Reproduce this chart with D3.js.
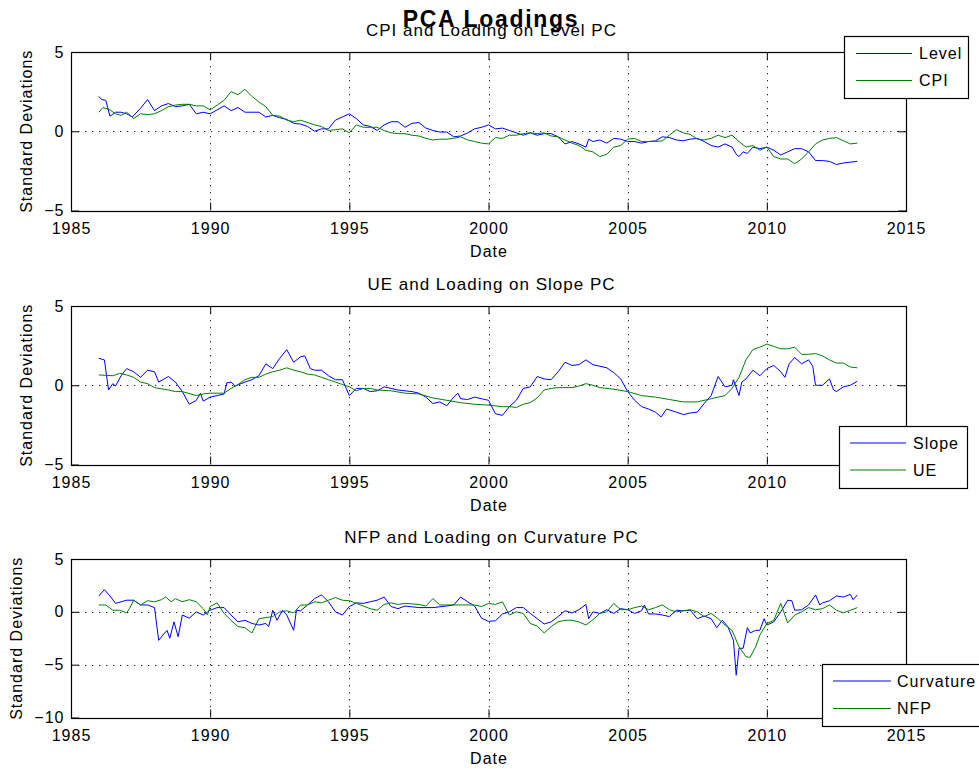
<!DOCTYPE html>
<html>
<head>
<meta charset="utf-8">
<script src="https://cdn.jsdelivr.net/npm/d3@7"></script>
<style>
  html, body { margin: 0; padding: 0; background: #fff; }
  svg { display: block; }
  text { font-family: "Liberation Sans", Arial, Helvetica, sans-serif; fill: #000; }
</style>
</head>
<body>
<svg id="chart" width="979" height="769"></svg>
<script>
// ---------------- DATA ----------------
const mainTitle = "PCA Loadings";
const panelTitles = ["CPI and Loading on Level PC", "UE and Loading on Slope PC", "NFP and Loading on Curvature PC"];
const xLabel = "Date";
const yLabel = "Standard Deviations";
const xTicks = [1985, 1990, 1995, 2000, 2005, 2010, 2015];
const yTicksA = [-5, 0, 5];
const yTicksB = [-10, -5, 0, 5];
const legendNames = [["Level", "CPI"], ["Slope", "UE"], ["Curvature", "NFP"]];

const level = [[1986.0,2.2],[1986.1,2.0],[1986.25,1.95],[1986.4,0.95],[1986.6,1.2],[1986.8,1.2],[1987.0,1.1],[1987.2,0.9],[1987.5,1.45],[1987.75,2.0],[1988.0,1.3],[1988.25,1.6],[1988.5,1.75],[1988.75,1.55],[1989.0,1.6],[1989.25,1.7],[1989.5,1.1],[1989.75,1.2],[1990.0,1.1],[1990.25,1.35],[1990.5,1.6],[1990.75,1.3],[1991.0,1.5],[1991.25,1.2],[1991.5,1.2],[1991.75,1.2],[1992.0,0.9],[1992.25,1.0],[1992.5,0.85],[1992.75,0.75],[1993.0,0.5],[1993.25,0.45],[1993.5,0.3],[1993.75,0.0],[1994.0,0.15],[1994.25,0.15],[1994.5,0.7],[1994.75,0.9],[1995.0,1.1],[1995.25,0.8],[1995.5,0.4],[1995.75,0.3],[1996.0,0.05],[1996.25,0.4],[1996.5,0.6],[1996.75,0.6],[1997.0,0.25],[1997.25,0.5],[1997.5,0.55],[1997.75,0.2],[1998.0,0.05],[1998.25,-0.05],[1998.5,-0.05],[1998.75,-0.35],[1999.0,-0.3],[1999.25,-0.1],[1999.5,0.15],[1999.75,0.25],[2000.0,0.4],[2000.25,0.15],[2000.5,0.2],[2000.75,0.05],[2001.0,-0.1],[2001.25,-0.25],[2001.5,-0.1],[2001.75,-0.25],[2002.0,-0.15],[2002.25,-0.15],[2002.5,-0.35],[2002.75,-0.8],[2003.0,-0.65],[2003.25,-0.8],[2003.5,-1.0],[2003.6,-0.5],[2003.75,-0.65],[2004.0,-0.55],[2004.25,-0.75],[2004.5,-0.45],[2004.75,-0.5],[2005.0,-0.65],[2005.25,-0.65],[2005.5,-0.75],[2005.75,-0.65],[2006.0,-0.6],[2006.25,-0.35],[2006.5,-0.4],[2006.75,-0.55],[2007.0,-0.6],[2007.25,-0.5],[2007.5,-0.45],[2007.75,-0.65],[2008.0,-0.9],[2008.25,-1.0],[2008.5,-0.8],[2008.75,-1.0],[2008.9,-1.45],[2009.0,-1.6],[2009.15,-1.3],[2009.3,-1.4],[2009.5,-1.0],[2009.75,-1.1],[2010.0,-1.0],[2010.25,-1.2],[2010.5,-1.5],[2010.75,-1.3],[2011.0,-1.1],[2011.25,-1.1],[2011.5,-1.3],[2011.75,-1.85],[2012.0,-1.85],[2012.25,-1.9],[2012.5,-2.1],[2012.75,-2.0],[2013.0,-1.95],[2013.25,-1.9]];

const cpi = [[1986.0,1.2],[1986.15,1.5],[1986.4,1.35],[1986.6,1.1],[1986.8,1.0],[1987.0,1.2],[1987.25,0.8],[1987.5,1.1],[1987.75,1.05],[1988.0,1.1],[1988.25,1.3],[1988.5,1.55],[1988.75,1.65],[1989.0,1.7],[1989.25,1.7],[1989.5,1.6],[1989.75,1.6],[1990.0,1.35],[1990.25,1.65],[1990.5,1.95],[1990.75,2.5],[1991.0,2.3],[1991.25,2.65],[1991.5,2.2],[1991.75,1.85],[1992.0,1.55],[1992.25,1.0],[1992.5,0.95],[1992.75,0.7],[1993.0,0.6],[1993.25,0.7],[1993.5,0.55],[1993.75,0.4],[1994.0,0.3],[1994.25,0.05],[1994.5,0.1],[1994.75,0.15],[1995.0,-0.1],[1995.25,0.4],[1995.5,0.25],[1995.75,0.25],[1996.0,0.25],[1996.25,0.05],[1996.5,-0.1],[1996.75,-0.15],[1997.0,-0.15],[1997.25,-0.25],[1997.5,-0.3],[1997.75,-0.45],[1998.0,-0.55],[1998.25,-0.5],[1998.5,-0.5],[1998.75,-0.45],[1999.0,-0.35],[1999.25,-0.55],[1999.5,-0.65],[1999.75,-0.75],[2000.0,-0.8],[2000.25,-0.4],[2000.5,-0.45],[2000.75,-0.25],[2001.0,-0.25],[2001.25,-0.15],[2001.5,-0.1],[2001.75,-0.15],[2002.0,-0.1],[2002.25,-0.3],[2002.5,-0.35],[2002.75,-0.55],[2003.0,-0.75],[2003.25,-0.9],[2003.5,-1.2],[2003.75,-1.3],[2004.0,-1.6],[2004.25,-1.45],[2004.5,-1.0],[2004.75,-0.9],[2005.0,-0.5],[2005.25,-0.45],[2005.5,-0.65],[2005.75,-0.65],[2006.0,-0.65],[2006.25,-0.6],[2006.5,-0.25],[2006.75,0.1],[2007.0,-0.1],[2007.25,-0.2],[2007.5,-0.5],[2007.75,-0.55],[2008.0,-0.45],[2008.25,-0.25],[2008.5,-0.4],[2008.75,-0.25],[2009.0,-0.65],[2009.25,-1.0],[2009.5,-0.9],[2009.75,-1.2],[2010.0,-1.0],[2010.25,-1.6],[2010.5,-1.75],[2010.75,-1.75],[2011.0,-2.05],[2011.25,-1.75],[2011.5,-1.3],[2011.75,-0.8],[2012.0,-0.55],[2012.25,-0.45],[2012.5,-0.4],[2012.75,-0.6],[2013.0,-0.8],[2013.25,-0.75]];

const slope = [[1986.0,1.7],[1986.2,1.6],[1986.35,-0.3],[1986.5,0.1],[1986.6,-0.05],[1986.8,0.6],[1987.0,1.05],[1987.25,0.85],[1987.5,0.5],[1987.75,0.95],[1988.0,0.85],[1988.15,0.2],[1988.5,0.55],[1988.75,0.2],[1989.0,-0.4],[1989.25,-1.2],[1989.5,-0.95],[1989.65,-0.5],[1989.75,-1.0],[1990.0,-0.75],[1990.25,-0.65],[1990.5,-0.55],[1990.6,0.15],[1990.75,0.2],[1990.9,-0.05],[1991.25,0.2],[1991.5,0.35],[1991.75,0.6],[1992.0,1.35],[1992.25,1.05],[1992.5,1.7],[1992.75,2.25],[1993.0,1.45],[1993.25,1.8],[1993.4,1.85],[1993.6,1.05],[1993.75,0.95],[1994.0,0.95],[1994.25,0.6],[1994.5,0.35],[1994.75,0.35],[1995.0,-0.65],[1995.25,-0.2],[1995.5,-0.2],[1995.75,-0.4],[1996.0,-0.35],[1996.25,-0.1],[1996.5,-0.2],[1996.75,-0.3],[1997.0,-0.35],[1997.25,-0.4],[1997.5,-0.5],[1997.75,-0.75],[1998.0,-1.15],[1998.25,-1.05],[1998.5,-1.3],[1998.75,-0.75],[1998.9,-0.5],[1999.0,-0.85],[1999.25,-0.9],[1999.5,-0.75],[1999.75,-0.85],[2000.0,-0.95],[2000.25,-1.8],[2000.5,-1.9],[2000.75,-1.35],[2001.0,-0.95],[2001.25,-0.2],[2001.5,-0.1],[2001.75,0.55],[2002.0,0.4],[2002.25,0.35],[2002.5,0.85],[2002.75,1.45],[2003.0,1.25],[2003.25,1.3],[2003.5,1.6],[2003.75,1.3],[2004.0,1.2],[2004.25,1.1],[2004.5,0.8],[2004.75,0.4],[2005.0,-0.4],[2005.25,-0.95],[2005.5,-1.35],[2005.75,-1.5],[2006.0,-1.7],[2006.2,-2.0],[2006.4,-1.5],[2006.75,-1.7],[2007.0,-1.85],[2007.25,-1.75],[2007.5,-1.7],[2007.75,-1.15],[2008.0,-0.65],[2008.25,0.55],[2008.5,-0.1],[2008.75,0.0],[2008.8,0.35],[2009.0,-0.65],[2009.1,0.2],[2009.25,0.4],[2009.5,0.95],[2009.75,0.6],[2010.0,1.05],[2010.25,1.25],[2010.5,0.85],[2010.65,0.5],[2010.8,1.35],[2011.0,1.75],[2011.25,1.35],[2011.5,1.6],[2011.65,1.2],[2011.75,0.0],[2012.0,0.0],[2012.25,0.4],[2012.4,-0.3],[2012.5,-0.4],[2012.75,-0.1],[2013.0,0.0],[2013.25,0.25]];

const ue = [[1986.0,0.65],[1986.5,0.6],[1986.75,0.75],[1987.0,0.65],[1987.25,0.5],[1987.5,0.2],[1987.75,0.1],[1988.0,-0.15],[1988.5,-0.3],[1988.75,-0.4],[1989.0,-0.4],[1989.5,-0.65],[1989.75,-0.55],[1990.0,-0.5],[1990.5,-0.5],[1990.75,-0.2],[1991.0,0.05],[1991.25,0.35],[1991.5,0.5],[1991.75,0.5],[1992.0,0.7],[1992.25,0.85],[1992.5,0.95],[1992.75,1.1],[1993.0,0.95],[1993.25,0.85],[1993.5,0.7],[1993.75,0.65],[1994.0,0.5],[1994.25,0.35],[1994.5,0.2],[1994.75,0.05],[1995.0,-0.1],[1995.25,-0.35],[1995.5,-0.2],[1995.75,-0.2],[1996.0,-0.3],[1996.5,-0.35],[1997.0,-0.5],[1997.5,-0.55],[1998.0,-0.8],[1998.5,-0.95],[1999.0,-1.1],[1999.5,-1.2],[2000.0,-1.25],[2000.5,-1.35],[2000.75,-1.35],[2001.0,-1.4],[2001.25,-1.2],[2001.5,-1.1],[2001.75,-0.8],[2002.0,-0.3],[2002.25,-0.2],[2002.5,-0.15],[2003.0,-0.15],[2003.25,-0.05],[2003.5,0.1],[2003.75,0.0],[2004.0,-0.15],[2004.5,-0.25],[2005.0,-0.4],[2005.5,-0.65],[2006.0,-0.75],[2006.5,-0.9],[2007.0,-1.05],[2007.5,-1.05],[2008.0,-0.85],[2008.5,-0.65],[2008.75,-0.2],[2009.0,0.5],[2009.25,1.6],[2009.5,2.25],[2009.75,2.4],[2010.0,2.6],[2010.25,2.45],[2010.5,2.3],[2010.75,2.3],[2011.0,2.4],[2011.25,1.95],[2011.5,1.95],[2011.75,2.0],[2012.0,1.85],[2012.25,1.6],[2012.5,1.4],[2012.75,1.4],[2013.0,1.15],[2013.25,1.1]];

const curvature = [[1986.0,1.5],[1986.2,2.1],[1986.4,1.5],[1986.6,0.8],[1987.0,1.1],[1987.25,1.1],[1987.5,0.65],[1987.75,0.65],[1988.0,0.4],[1988.15,-2.7],[1988.3,-2.2],[1988.45,-1.75],[1988.55,-2.5],[1988.7,-0.95],[1988.85,-2.35],[1989.0,-0.3],[1989.25,-0.6],[1989.5,0.0],[1989.75,-0.3],[1990.0,0.15],[1990.25,0.4],[1990.5,0.4],[1990.75,-0.3],[1991.0,-0.95],[1991.25,-0.8],[1991.5,-1.1],[1991.75,-1.25],[1992.0,-1.1],[1992.1,-1.4],[1992.25,0.15],[1992.4,-0.8],[1992.6,0.15],[1992.75,-0.3],[1993.0,-1.75],[1993.1,0.15],[1993.25,0.1],[1993.5,0.65],[1993.75,1.25],[1994.0,1.6],[1994.25,0.95],[1994.5,0.0],[1994.75,-0.3],[1995.0,0.5],[1995.25,0.85],[1995.5,0.8],[1995.75,0.95],[1996.0,1.1],[1996.25,1.4],[1996.5,0.5],[1996.75,0.3],[1997.0,0.55],[1997.5,0.4],[1998.0,0.4],[1998.5,0.55],[1998.75,0.65],[1999.0,1.4],[1999.25,0.95],[1999.5,0.55],[1999.75,-0.6],[2000.0,-0.9],[2000.25,-0.85],[2000.5,-0.2],[2000.75,0.0],[2001.0,0.4],[2001.25,0.4],[2001.5,-0.15],[2001.75,-0.65],[2002.0,-1.15],[2002.25,-0.95],[2002.5,-0.45],[2002.75,0.1],[2003.0,-0.1],[2003.25,0.2],[2003.5,0.7],[2003.6,-0.65],[2003.75,0.0],[2004.0,-0.15],[2004.25,0.2],[2004.5,-0.15],[2004.75,0.3],[2005.0,0.2],[2005.25,-0.15],[2005.5,0.1],[2005.6,0.65],[2005.75,-0.2],[2006.0,-0.2],[2006.25,-0.3],[2006.5,-0.45],[2006.75,0.15],[2007.0,0.1],[2007.25,0.15],[2007.5,-0.65],[2007.75,-0.4],[2008.0,-0.65],[2008.2,-1.5],[2008.4,-0.8],[2008.6,-1.4],[2008.8,-2.7],[2008.9,-6.0],[2009.0,-3.45],[2009.15,-3.45],[2009.3,-1.5],[2009.4,-2.0],[2009.6,-1.75],[2009.75,-1.75],[2009.9,-0.65],[2010.0,-1.25],[2010.25,-0.95],[2010.5,0.0],[2010.75,1.1],[2010.9,1.05],[2011.0,0.15],[2011.25,0.2],[2011.5,0.65],[2011.75,1.6],[2011.9,0.65],[2012.0,0.85],[2012.25,1.05],[2012.5,1.5],[2012.75,1.4],[2013.0,1.65],[2013.1,1.15],[2013.25,1.6]];

const nfp = [[1986.0,0.65],[1986.25,0.65],[1986.5,0.15],[1986.75,0.15],[1987.0,-0.1],[1987.1,0.3],[1987.25,1.1],[1987.5,0.65],[1987.75,1.05],[1988.0,0.95],[1988.25,1.15],[1988.4,1.4],[1988.6,0.95],[1988.75,1.25],[1989.0,0.95],[1989.25,1.15],[1989.5,0.95],[1989.75,0.3],[1989.9,-0.3],[1990.0,0.5],[1990.25,0.85],[1990.5,-0.15],[1990.75,-0.8],[1991.0,-1.4],[1991.25,-1.5],[1991.5,-2.0],[1991.75,-0.65],[1992.0,-0.55],[1992.25,-0.45],[1992.5,0.0],[1992.75,0.1],[1993.0,-0.1],[1993.25,0.65],[1993.5,0.65],[1993.75,0.95],[1994.0,0.85],[1994.25,1.1],[1994.5,1.35],[1994.75,1.1],[1995.0,1.05],[1995.25,0.8],[1995.5,0.55],[1995.75,0.3],[1996.0,0.15],[1996.25,0.7],[1996.5,0.85],[1996.75,0.7],[1997.0,0.8],[1997.5,0.7],[1997.75,0.55],[1998.0,1.25],[1998.25,0.65],[1998.5,0.65],[1999.0,0.65],[1999.5,0.65],[1999.75,0.5],[2000.0,0.8],[2000.25,0.7],[2000.5,0.95],[2000.75,-0.3],[2001.0,0.0],[2001.25,-0.15],[2001.5,-1.1],[2001.75,-1.35],[2002.0,-2.0],[2002.25,-1.4],[2002.5,-0.95],[2002.75,-0.8],[2003.0,-0.8],[2003.25,-0.95],[2003.5,-1.25],[2003.75,-0.75],[2004.0,-0.15],[2004.25,0.0],[2004.5,0.8],[2004.75,0.2],[2005.0,0.2],[2005.25,0.4],[2005.5,0.55],[2005.75,0.2],[2006.0,0.4],[2006.25,0.65],[2006.5,0.2],[2006.75,0.0],[2007.0,0.1],[2007.25,0.2],[2007.5,0.0],[2007.75,-0.45],[2008.0,-0.15],[2008.25,-0.65],[2008.5,-1.25],[2008.75,-1.75],[2009.0,-3.3],[2009.25,-4.25],[2009.4,-4.3],[2009.6,-3.3],[2009.75,-2.2],[2010.0,-1.1],[2010.25,-0.8],[2010.5,0.8],[2010.75,-1.05],[2011.0,-0.3],[2011.25,0.0],[2011.5,0.4],[2011.75,0.2],[2012.0,0.3],[2012.25,0.65],[2012.5,0.15],[2012.75,-0.1],[2013.0,0.15],[2013.25,0.4]];

// ---------------- DRAW ----------------
const svg = d3.select("#chart");
svg.append("rect").attr("width", 979).attr("height", 769).attr("fill", "#fff");

const left = 71, right = 906, panelH = 158.5;
const panels = [
  { top: 52,  yDomain: [-5, 5],  yTicks: yTicksA, series: [level, cpi], names: legendNames[0], title: panelTitles[0],
    legend: { x: 844, y: 36, w: 124, h: 62, lx1: 856, lx2: 912, tx: 919, ly: [53.5, 80.5] }, ylabX: 32 },
  { top: 306, yDomain: [-5, 5],  yTicks: yTicksA, series: [slope, ue], names: legendNames[1], title: panelTitles[1],
    legend: { x: 839, y: 426, w: 128, h: 62, lx1: 850, lx2: 906, tx: 913, ly: [443, 470] }, ylabX: 32 },
  { top: 559, yDomain: [-10, 5], yTicks: yTicksB, series: [curvature, nfp], names: legendNames[2], title: panelTitles[2],
    legend: { x: 822, y: 664, w: 170, h: 62, lx1: 833, lx2: 891, tx: 897, ly: [681, 708.5] }, ylabX: 22 }
];
const colors = ["#0000ff", "#008000"];

const x = d3.scaleLinear().domain([1985, 2015]).range([left, right]);

panels.forEach((p) => {
  const bottom = p.top + panelH;
  const y = d3.scaleLinear().domain(p.yDomain).range([bottom, p.top]);
  const g = svg.append("g");

  // dotted grid
  const grid = g.append("g").attr("stroke", "#222").attr("stroke-width", 1).attr("stroke-dasharray", "1.3,5.7");
  xTicks.filter(t => t > 1985 && t < 2015).forEach(t => {
    grid.append("line").attr("x1", Math.round(x(t)) + 0.5).attr("x2", Math.round(x(t)) + 0.5)
      .attr("y1", p.top).attr("y2", bottom);
  });
  p.yTicks.filter(t => t > p.yDomain[0] && t < p.yDomain[1]).forEach(t => {
    grid.append("line").attr("x1", left).attr("x2", right)
      .attr("y1", Math.round(y(t)) + 0.5).attr("y2", Math.round(y(t)) + 0.5);
  });

  // axes (ticks inward)
  const fmt = d3.format("d");
  const xb = g.append("g").attr("transform", `translate(0,${bottom})`)
    .call(d3.axisBottom(x).tickValues(xTicks).tickFormat(fmt).tickSizeInner(-8).tickSizeOuter(0).tickPadding(12.5));
  const xt = g.append("g").attr("transform", `translate(0,${p.top})`)
    .call(d3.axisTop(x).tickValues(xTicks).tickFormat("").tickSizeInner(-8).tickSizeOuter(0));
  const yl = g.append("g").attr("transform", `translate(${left},0)`)
    .call(d3.axisLeft(y).tickValues(p.yTicks).tickFormat(fmt).tickSizeInner(-8).tickSizeOuter(0).tickPadding(6.5));
  const yr = g.append("g").attr("transform", `translate(${right},0)`)
    .call(d3.axisRight(y).tickValues(p.yTicks).tickFormat("").tickSizeInner(-8).tickSizeOuter(0));
  [xb, xt, yl, yr].forEach(a => {
    a.select(".domain").remove();
    a.selectAll(".tick line").attr("stroke", "#000");
    a.selectAll("text").attr("font-size", 16).attr("letter-spacing", "1px")
      .attr("font-family", "'Liberation Sans', Arial, sans-serif").attr("fill", "#000");
  });

  // data lines
  const line = d3.line().x(d => x(d[0])).y(d => y(d[1]));
  p.series.forEach((s, i) => {
    g.append("path").datum(s).attr("d", line).attr("fill", "none")
      .attr("stroke", colors[i]).attr("stroke-width", 1);
  });

  // box
  g.append("rect").attr("x", left + 0.5).attr("y", Math.round(p.top) + 0.5)
    .attr("width", right - left).attr("height", Math.round(panelH))
    .attr("fill", "none").attr("stroke", "#000").attr("stroke-width", 1.2);

  // labels
  g.append("text").attr("x", 491.5).attr("y", p.top - 16).attr("text-anchor", "middle")
    .attr("font-size", 17).attr("letter-spacing", "1px").text(p.title);
  g.append("text").attr("x", 489).attr("y", bottom + 46).attr("text-anchor", "middle")
    .attr("font-size", 16).attr("letter-spacing", "1px").text(xLabel);
  g.append("text").attr("transform", `translate(${p.ylabX},${p.top + panelH / 2}) rotate(-90)`)
    .attr("text-anchor", "middle").attr("font-size", 16).attr("letter-spacing", "1px").text(yLabel);

  // legend
  const L = p.legend;
  const lg = svg.append("g");
  lg.append("rect").attr("x", L.x + 0.5).attr("y", L.y + 0.5).attr("width", L.w).attr("height", L.h)
    .attr("fill", "#fff").attr("stroke", "#000").attr("stroke-width", 1.2);
  p.names.forEach((n, i) => {
    lg.append("line").attr("x1", L.lx1).attr("x2", L.lx2).attr("y1", L.ly[i]).attr("y2", L.ly[i])
      .attr("stroke", colors[i]).attr("stroke-width", 1);
    lg.append("text").attr("x", L.tx).attr("y", L.ly[i]).attr("dy", "0.36em")
      .attr("font-size", 16).attr("letter-spacing", "1px").text(n);
  });
});

// main title
svg.append("text").attr("x", 491).attr("y", 27).attr("text-anchor", "middle")
  .attr("font-size", 23).attr("font-weight", "bold").attr("letter-spacing", "1.7px").text(mainTitle);
</script>
</body>
</html>
